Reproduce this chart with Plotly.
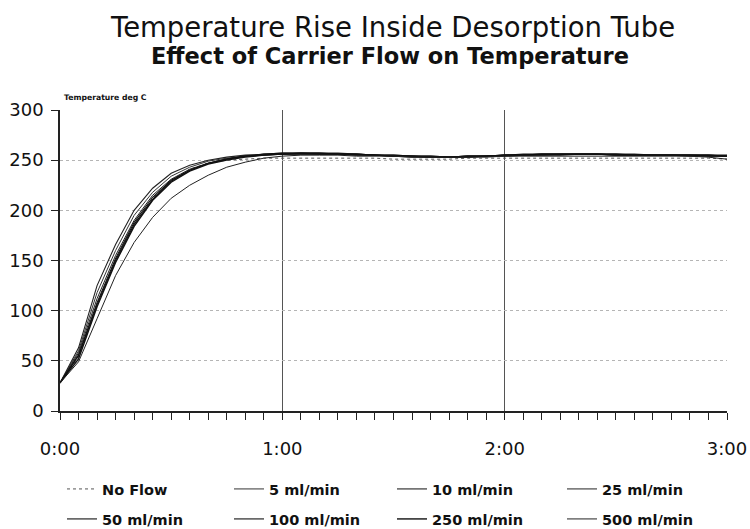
import plotly.graph_objects as go

# time in seconds
time_s = [0, 5, 10, 15, 20, 25, 30, 35, 40, 45, 50, 55, 60,
          65, 70, 75, 80, 85, 90, 95, 100, 105, 110, 115, 120,
          125, 130, 135, 140, 145, 150, 155, 160, 165, 170, 175, 180]

no_flow = [28, 54, 106, 150, 186, 212, 230, 241, 247, 250, 251, 252, 252] + \
          [252, 252, 252, 252, 252, 251, 251, 251, 251, 252, 252, 252, 252, 252, 252, 252, 252, 252, 252, 252, 252, 252, 252, 251]
flow5 = [28, 60, 118, 160, 195, 218, 234, 243, 249, 252, 254, 256, 256] + \
        [257, 257, 256, 256, 255, 254, 254, 253, 253, 254, 254, 255, 255, 256, 256, 256, 256, 256, 255, 255, 255, 255, 255, 254]
flow10 = [28, 63, 125, 166, 200, 222, 237, 245, 250, 253, 255, 256, 257] + \
         [257, 257, 257, 256, 255, 255, 254, 254, 253, 254, 254, 255, 255, 256, 256, 256, 256, 256, 256, 255, 255, 255, 255, 254]
flow25 = [28, 58, 112, 155, 190, 215, 231, 241, 247, 251, 254, 255, 256] + \
         [256, 256, 256, 255, 255, 254, 254, 253, 253, 253, 254, 255, 255, 255, 256, 256, 256, 255, 255, 255, 255, 255, 255, 254]
flow50 = [28, 56, 108, 152, 188, 213, 230, 240, 247, 251, 254, 255, 256] + \
         [257, 256, 256, 256, 255, 254, 253, 253, 253, 254, 254, 255, 255, 256, 256, 256, 256, 255, 255, 255, 255, 255, 254, 254]
flow100 = [28, 55, 106, 150, 186, 211, 229, 240, 247, 251, 254, 256, 257] + \
          [257, 257, 256, 256, 255, 255, 254, 254, 253, 254, 254, 255, 256, 256, 256, 256, 256, 256, 255, 255, 255, 255, 255, 255]
flow250 = [28, 52, 104, 148, 184, 210, 228, 239, 246, 250, 253, 255, 256] + \
          [256, 256, 256, 255, 255, 254, 254, 253, 253, 253, 254, 254, 255, 255, 255, 256, 256, 255, 255, 255, 255, 254, 254, 254]
flow500 = [28, 49, 92, 135, 168, 193, 212, 225, 235, 243, 248, 252, 254] + \
          [255, 255, 255, 254, 254, 254, 253, 253, 253, 253, 253, 254, 254, 254, 254, 254, 254, 254, 254, 254, 254, 254, 253, 251]

series_names = ["No Flow", "5 ml/min", "10 ml/min", "25 ml/min",
                "50 ml/min", "100 ml/min", "250 ml/min", "500 ml/min"]
series_values = [no_flow, flow5, flow10, flow25, flow50, flow100, flow250, flow500]

x_tick_vals = [0, 60, 120, 180]
x_tick_text = ["0:00", "1:00", "2:00", "3:00"]
y_tick_vals = [0, 50, 100, 150, 200, 250, 300]

styles = [
    dict(color="#555555", width=1, dash="dot"),
    dict(color="#333333", width=1),
    dict(color="#222222", width=1.1),
    dict(color="#222222", width=1),
    dict(color="#111111", width=1.1),
    dict(color="#111111", width=1.1),
    dict(color="#111111", width=1.4),
    dict(color="#222222", width=1),
]

# legend placement (pixels): one legend per entry, 4 columns x 2 rows
PLOT_L, PLOT_R, PLOT_T, PLOT_B = 60, 727, 110, 411
col_px = [62, 229, 392, 562]
row_px = [489, 519]

fig = go.Figure()
layout_legends = {}
for i, (name, vals) in enumerate(zip(series_names, series_values)):
    key = "legend" if i == 0 else f"legend{i + 1}"
    fig.add_trace(go.Scatter(
        x=time_s, y=vals, mode="lines", name=name,
        line=styles[i], legend=key,
    ))
    lx = (col_px[i % 4] - PLOT_L) / (PLOT_R - PLOT_L)
    ly = (PLOT_B - row_px[i // 4]) / (PLOT_B - PLOT_T)
    layout_legends[key] = dict(
        x=lx, y=ly, xanchor="left", yanchor="middle", orientation="h",
        font=dict(family="DejaVu Sans", size=14.5, color="#111111", weight="bold"),
        bgcolor="rgba(0,0,0,0)", itemwidth=30,
    )

fig.update_layout(
    width=750, height=529,
    margin=dict(l=PLOT_L, r=750 - PLOT_R, t=PLOT_T, b=529 - PLOT_B, autoexpand=False),
    paper_bgcolor="white", plot_bgcolor="white",
    showlegend=True,
    annotations=[
        dict(text="Temperature Rise Inside Desorption Tube", xref="paper", yref="paper",
             x=(392 - PLOT_L) / (PLOT_R - PLOT_L), y=1.0, yshift=PLOT_T - 27,
             xanchor="center", yanchor="middle", showarrow=False,
             font=dict(family="DejaVu Sans", size=27.5, color="#111111")),
        dict(text="Effect of Carrier Flow on Temperature", xref="paper", yref="paper",
             x=(390 - PLOT_L) / (PLOT_R - PLOT_L), y=1.0, yshift=PLOT_T - 56,
             xanchor="center", yanchor="middle", showarrow=False,
             font=dict(family="DejaVu Sans", size=22.5, color="#111111", weight="bold")),
        dict(text="Temperature deg C", xref="paper", yref="paper",
             x=0.0, y=1.0, xshift=2, yshift=13, xanchor="left", yanchor="middle", showarrow=False,
             font=dict(family="DejaVu Sans", size=7.7, color="#111111", weight="bold")),
    ],
    **layout_legends,
)

fig.update_xaxes(
    range=[0, 180], tickvals=x_tick_vals, ticktext=x_tick_text,
    showline=True, linecolor="#222222", linewidth=1.5,
    ticks="outside", ticklen=7, tickcolor="#222222", tickwidth=1.2,
    minor=dict(dtick=5, ticks="outside", ticklen=7, tickcolor="#222222", tickwidth=1.2, showgrid=False),
    showgrid=True, gridcolor="#555555", gridwidth=1,
    zeroline=False, ticklabelstandoff=14,
    tickfont=dict(family="DejaVu Sans", size=18, color="#111111"),
)
fig.update_yaxes(
    range=[0, 300], tickvals=y_tick_vals,
    showline=True, linecolor="#222222", linewidth=1.5,
    ticks="outside", ticklen=7, tickcolor="#222222", tickwidth=1.2,
    showgrid=True, gridcolor="#b5b5b5", gridwidth=1, griddash="dot",
    zeroline=False, ticklabelstandoff=4,
    tickfont=dict(family="DejaVu Sans", size=18, color="#111111"),
)

fig.write_html("out.html", config={"displayModeBar": False},
               post_script="document.body.style.margin='0px';")
